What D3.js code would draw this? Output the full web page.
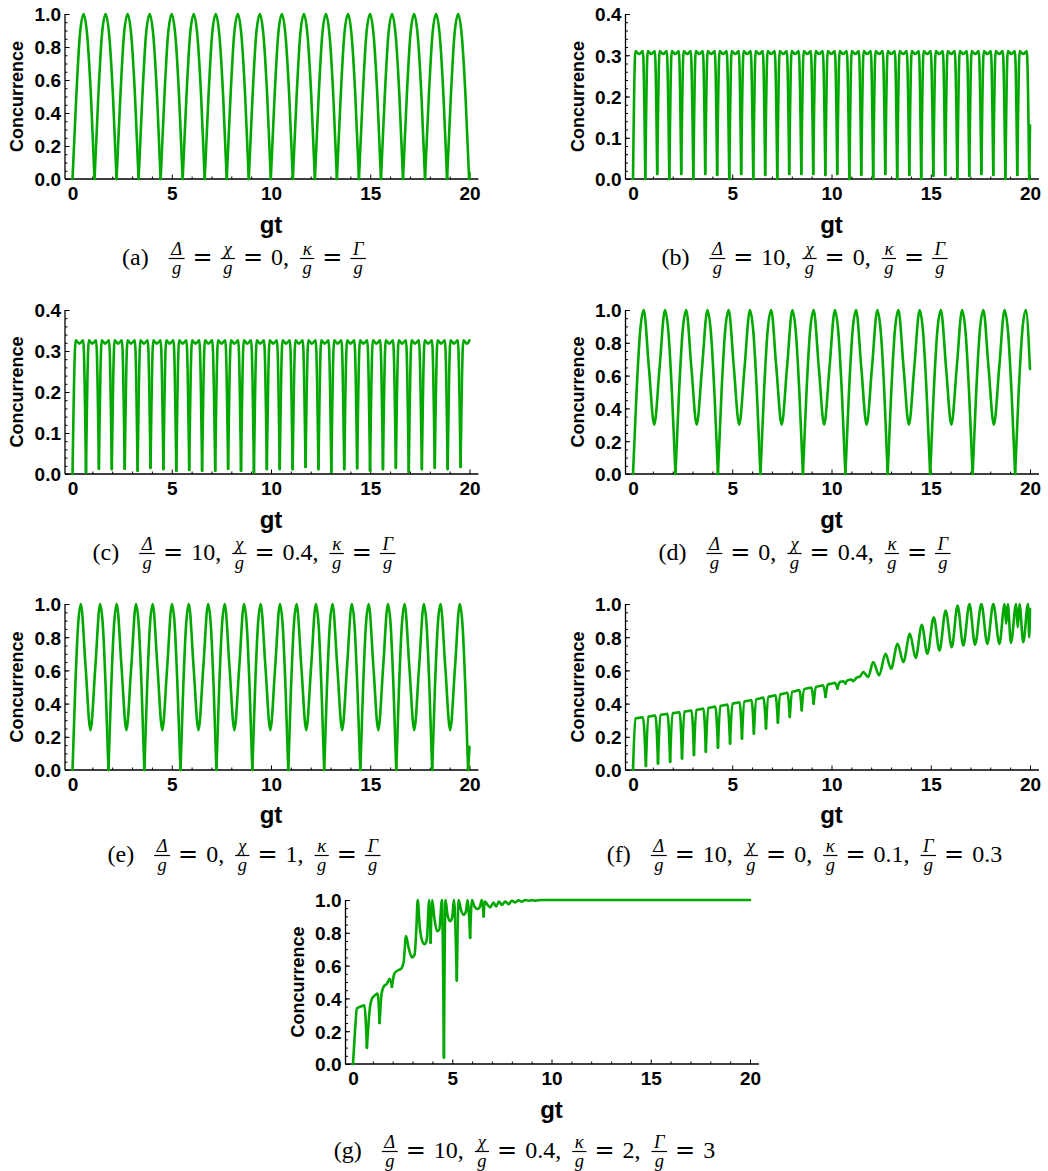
<!DOCTYPE html>
<html>
<head>
<meta charset="utf-8">
<title>Concurrence vs gt</title>
<script src="https://cdn.jsdelivr.net/npm/d3@7"></script>
<style>
  body { margin: 0; background: #fff; }
  .tick text, .lab { font-family: "Liberation Sans", Arial, sans-serif; font-weight: bold; fill: #000; }
  .cap text { font-family: "Liberation Serif", "Times New Roman", serif; fill: #000; }
  .cap text.eq { font-family: "DejaVu Serif", serif; }
</style>
</head>
<body>
<svg id="chart" width="1048" height="1171"></svg>
<script>
// values: [gt, concurrence]; a third entry 1 marks a sharp cusp
const concA = [
  [0,0,1],[.19,.5],[.37,.87],[.56,1],[.74,.87],[.93,.5],
  [1.11,0,1],[1.30,.5],[1.48,.87],[1.67,1],[1.85,.87],[2.04,.5],
  [2.22,0,1],[2.41,.5],[2.59,.87],[2.78,1],[2.96,.87],[3.15,.5],
  [3.33,0,1],[3.52,.5],[3.70,.87],[3.89,1],[4.07,.87],[4.26,.5],
  [4.44,0,1],[4.63,.5],[4.81,.87],[5.00,1],[5.18,.87],[5.37,.5],
  [5.55,0,1],[5.74,.5],[5.92,.87],[6.11,1],[6.29,.87],[6.48,.5],
  [6.66,0,1],[6.85,.5],[7.03,.87],[7.22,1],[7.40,.87],[7.59,.5],
  [7.77,0,1],[7.96,.5],[8.14,.87],[8.33,1],[8.51,.87],[8.70,.5],
  [8.88,0,1],[9.07,.5],[9.25,.87],[9.44,1],[9.62,.87],[9.81,.5],
  [9.99,0,1],[10.18,.5],[10.36,.87],[10.55,1],[10.73,.87],[10.92,.5],
  [11.10,0,1],[11.29,.5],[11.47,.87],[11.66,1],[11.84,.87],[12.03,.5],
  [12.21,0,1],[12.40,.5],[12.58,.87],[12.77,1],[12.95,.87],[13.14,.5],
  [13.32,0,1],[13.51,.5],[13.69,.87],[13.88,1],[14.06,.87],[14.25,.5],
  [14.43,0,1],[14.62,.5],[14.80,.87],[14.99,1],[15.17,.87],[15.36,.5],
  [15.54,0,1],[15.73,.5],[15.91,.87],[16.10,1],[16.28,.87],[16.47,.5],
  [16.65,0,1],[16.84,.5],[17.02,.87],[17.21,1],[17.39,.87],[17.58,.5],
  [17.76,0,1],[17.95,.5],[18.13,.87],[18.32,1],[18.50,.87],[18.69,.5],
  [18.87,0,1],[19.06,.5],[19.24,.87],[19.43,1],[19.61,.87],[19.80,.5],
  [19.98,0,1],[20,.04]
];

const concB = [
  [0,0,1],[.12,.31],[.31,.303],[.5,.31],
  [.62,0,1],[.74,.31],[.92,.303],[1.1,.31],
  [1.22,.012,1],[1.34,.31],[1.52,.303],[1.7,.31],
  [1.83,0,1],[1.95,.31],[2.13,.303],[2.31,.31],
  [2.43,.012,1],[2.55,.31],[2.73,.303],[2.91,.31],
  [3.04,0,1],[3.16,.31],[3.34,.303],[3.52,.31],
  [3.64,.012,1],[3.76,.31],[3.94,.303],[4.12,.31],
  [4.24,.01,1],[4.36,.31],[4.54,.303],[4.72,.31],
  [4.85,0,1],[4.97,.31],[5.15,.303],[5.33,.31],
  [5.45,.012,1],[5.57,.31],[5.75,.303],[5.93,.31],
  [6.06,0,1],[6.18,.31],[6.36,.303],[6.54,.31],
  [6.66,.01,1],[6.78,.31],[6.96,.303],[7.14,.31],
  [7.27,0,1],[7.39,.31],[7.57,.303],[7.75,.31],
  [7.87,.012,1],[7.99,.31],[8.17,.303],[8.35,.31],
  [8.48,.012,1],[8.6,.31],[8.78,.303],[8.96,.31],
  [9.08,.012,1],[9.2,.31],[9.38,.303],[9.56,.31],
  [9.69,.01,1],[9.81,.31],[9.99,.303],[10.17,.31],
  [10.29,.012,1],[10.41,.31],[10.59,.303],[10.77,.31],
  [10.9,0,1],[11.02,.31],[11.2,.303],[11.38,.31],
  [11.5,.01,1],[11.62,.31],[11.8,.303],[11.98,.31],
  [12.1,0,1],[12.22,.31],[12.4,.303],[12.58,.31],
  [12.71,.012,1],[12.83,.31],[13.01,.303],[13.19,.31],
  [13.31,0,1],[13.43,.31],[13.61,.303],[13.79,.31],
  [13.92,.01,1],[14.04,.31],[14.22,.303],[14.4,.31],
  [14.52,0,1],[14.64,.31],[14.82,.303],[15,.31],
  [15.13,.008,1],[15.25,.31],[15.43,.303],[15.61,.31],
  [15.73,.01,1],[15.85,.31],[16.03,.303],[16.21,.31],
  [16.34,0,1],[16.46,.31],[16.64,.303],[16.82,.31],
  [16.94,.008,1],[17.06,.31],[17.24,.303],[17.42,.31],
  [17.55,.012,1],[17.67,.31],[17.85,.303],[18.03,.31],
  [18.15,.01,1],[18.27,.31],[18.45,.303],[18.63,.31],
  [18.76,0,1],[18.88,.31],[19.06,.303],[19.24,.31],
  [19.36,.01,1],[19.48,.31],[19.66,.303],[19.84,.31],
  [19.96,0,1],[20,.13]
];

const concC = [
  [0,0,1],[.16,.326],[.35,.318],[.54,.326],
  [.68,.004,1],[.82,.326],[1.0,.318],[1.19,.326],
  [1.33,.013,1],[1.47,.326],[1.65,.318],[1.84,.326],
  [1.98,.012,1],[2.12,.326],[2.3,.318],[2.49,.326],
  [2.63,.013,1],[2.77,.326],[2.95,.318],[3.14,.326],
  [3.28,.008,1],[3.42,.326],[3.6,.318],[3.79,.326],
  [3.93,.015,1],[4.07,.326],[4.25,.318],[4.44,.326],
  [4.58,.012,1],[4.72,.326],[4.9,.318],[5.09,.326],
  [5.23,.008,1],[5.37,.326],[5.55,.318],[5.74,.326],
  [5.88,.01,1],[6.02,.326],[6.2,.318],[6.39,.326],
  [6.53,.008,1],[6.67,.326],[6.85,.318],[7.04,.326],
  [7.19,.008,1],[7.33,.326],[7.51,.318],[7.7,.326],
  [7.84,.013,1],[7.98,.326],[8.16,.318],[8.35,.326],
  [8.49,.008,1],[8.63,.326],[8.81,.318],[9.0,.326],
  [9.14,.004,1],[9.28,.326],[9.46,.318],[9.65,.326],
  [9.79,.012,1],[9.93,.326],[10.11,.318],[10.3,.326],
  [10.44,.012,1],[10.58,.326],[10.76,.318],[10.95,.326],
  [11.09,.012,1],[11.23,.326],[11.41,.318],[11.6,.326],
  [11.74,.017,1],[11.88,.326],[12.06,.318],[12.25,.326],
  [12.39,.012,1],[12.53,.326],[12.71,.318],[12.9,.326],
  [13.04,.005,1],[13.18,.326],[13.36,.318],[13.55,.326],
  [13.69,.012,1],[13.83,.326],[14.01,.318],[14.2,.326],
  [14.34,.014,1],[14.48,.326],[14.66,.318],[14.85,.326],
  [14.99,.008,1],[15.13,.326],[15.31,.318],[15.5,.326],
  [15.64,.012,1],[15.78,.326],[15.96,.318],[16.15,.326],
  [16.29,.015,1],[16.43,.326],[16.61,.318],[16.8,.326],
  [16.94,.005,1],[17.08,.326],[17.26,.318],[17.45,.326],
  [17.6,.012,1],[17.74,.326],[17.92,.318],[18.11,.326],
  [18.25,.015,1],[18.39,.326],[18.57,.318],[18.76,.326],
  [18.9,.012,1],[19.04,.326],[19.22,.318],[19.41,.326],
  [19.55,.017,1],[19.69,.326],[19.87,.318],[20,.326]
];

const concD = [
  [0,0,1],[.18,.5],[.36,.87],[.54,1],[.80,.65],[1.07,.30],[1.34,.65],[1.61,1],[1.78,.87],[1.96,.5],
  [2.14,0,1],[2.32,.5],[2.50,.87],[2.68,1],[2.94,.65],[3.21,.30],[3.48,.65],[3.75,1],[3.92,.87],[4.10,.5],
  [4.28,0,1],[4.46,.5],[4.64,.87],[4.82,1],[5.08,.65],[5.35,.30],[5.62,.65],[5.89,1],[6.06,.87],[6.24,.5],
  [6.42,0,1],[6.60,.5],[6.78,.87],[6.96,1],[7.22,.65],[7.49,.30],[7.76,.65],[8.03,1],[8.20,.87],[8.38,.5],
  [8.56,0,1],[8.74,.5],[8.92,.87],[9.10,1],[9.36,.65],[9.63,.30],[9.90,.65],[10.17,1],[10.34,.87],[10.52,.5],
  [10.70,0,1],[10.88,.5],[11.06,.87],[11.24,1],[11.50,.65],[11.77,.30],[12.04,.65],[12.31,1],[12.48,.87],[12.66,.5],
  [12.83,0,1],[13.01,.5],[13.19,.87],[13.37,1],[13.63,.65],[13.90,.30],[14.17,.65],[14.44,1],[14.61,.87],[14.79,.5],
  [14.97,0,1],[15.15,.5],[15.33,.87],[15.51,1],[15.77,.65],[16.04,.30],[16.31,.65],[16.58,1],[16.75,.87],[16.93,.5],
  [17.11,0,1],[17.29,.5],[17.47,.87],[17.65,1],[17.91,.65],[18.18,.30],[18.45,.65],[18.72,1],[18.89,.87],[19.07,.5],
  [19.25,0,1],[19.43,.5],[19.61,.87],[19.79,1],[20,.64]
];

const concE = [
  [0,0,1],[.14,.5],[.28,.87],[.42,1],[.66,.62],[.905,.24],[1.15,.62],[1.39,1],[1.53,.87],[1.67,.5],
  [1.81,0,1],[1.95,.5],[2.09,.87],[2.23,1],[2.47,.62],[2.715,.24],[2.96,.62],[3.20,1],[3.34,.87],[3.48,.5],
  [3.62,0,1],[3.76,.5],[3.90,.87],[4.04,1],[4.28,.62],[4.525,.24],[4.77,.62],[5.01,1],[5.15,.87],[5.29,.5],
  [5.44,0,1],[5.58,.5],[5.72,.87],[5.86,1],[6.10,.62],[6.345,.24],[6.59,.62],[6.83,1],[6.97,.87],[7.11,.5],
  [7.25,0,1],[7.39,.5],[7.53,.87],[7.67,1],[7.91,.62],[8.155,.24],[8.40,.62],[8.64,1],[8.78,.87],[8.92,.5],
  [9.06,0,1],[9.20,.5],[9.34,.87],[9.48,1],[9.72,.62],[9.965,.24],[10.21,.62],[10.45,1],[10.59,.87],[10.73,.5],
  [10.87,0,1],[11.01,.5],[11.15,.87],[11.29,1],[11.53,.62],[11.775,.24],[12.02,.62],[12.26,1],[12.40,.87],[12.54,.5],
  [12.68,0,1],[12.82,.5],[12.96,.87],[13.10,1],[13.34,.62],[13.585,.24],[13.83,.62],[14.07,1],[14.21,.87],[14.35,.5],
  [14.50,0,1],[14.64,.5],[14.78,.87],[14.92,1],[15.16,.62],[15.405,.24],[15.65,.62],[15.89,1],[16.03,.87],[16.17,.5],
  [16.31,0,1],[16.45,.5],[16.59,.87],[16.73,1],[16.97,.62],[17.215,.24],[17.46,.62],[17.70,1],[17.84,.87],[17.98,.5],
  [18.12,0,1],[18.26,.5],[18.40,.87],[18.54,1],[18.78,.62],[19.025,.24],[19.27,.62],[19.51,1],[19.65,.87],[19.79,.5],
  [19.93,0,1],[20,.14]
];

const concF = [
  [0,0,1],[.12,.31],[.3,.314],[.5,.318],
  [.65,.025,1],[.77,.322],[.95,.325],[1.13,.328],
  [1.26,.04,1],[1.38,.332],[1.56,.335],[1.74,.338],
  [1.87,.05,1],[1.99,.342],[2.17,.345],[2.35,.348],
  [2.47,.07,1],[2.59,.352],[2.77,.355],[2.95,.358],
  [3.07,.09,1],[3.19,.362],[3.37,.366],[3.55,.37],
  [3.67,.11,1],[3.79,.374],[3.97,.378],[4.15,.382],
  [4.28,.135,1],[4.4,.386],[4.58,.39],[4.76,.395],
  [4.89,.16,1],[5.01,.4],[5.19,.404],[5.37,.408],
  [5.49,.19,1],[5.61,.412],[5.79,.417],[5.97,.422],
  [6.09,.22,1],[6.21,.426],[6.39,.431],[6.57,.436],
  [6.7,.25,1],[6.82,.44],[7.0,.445],[7.18,.45],
  [7.3,.285,1],[7.42,.455],[7.6,.46],[7.78,.465],
  [7.9,.32,1],[8.02,.47],[8.2,.476],[8.38,.482],
  [8.5,.36,1],[8.62,.486],[8.8,.492],[8.98,.497],
  [9.1,.40,1],[9.22,.5],[9.4,.506],[9.58,.51],
  [9.7,.44,1],[9.82,.515],[10.0,.52],[10.18,.525],
  [10.3,.49,1],[10.42,.53],[10.6,.535],
  [10.7,.52,1],[10.8,.54],[11.0,.545],[11.1,.535],[11.25,.555],[11.45,.565],[11.6,.59],[11.85,.56],
  [12.1,.65],[12.4,.57],[12.72,.70],[13.0,.61],[13.33,.76],[13.62,.65],[13.95,.82],[14.24,.675],
  [14.55,.875],[14.83,.70],[15.15,.92],[15.44,.72],[15.75,.96],[16.06,.74],[16.35,.99],[16.64,.75],
  [16.95,1.0],[17.23,.755],[17.55,1.0],[17.85,.76],[18.15,1.0],[18.46,.76],[18.72,1.0],[18.8,.88],
  [18.88,1.0],[19.04,.765],[19.3,1.0],[19.38,.86],[19.47,1.0],[19.66,.77],[19.9,1.0],[19.96,.8],[20,.97]
];

const concG = [
  [0,0,1],[.1,.2],[.2,.34],[.37,.35],[.5,.355],[.57,.36],
  [.70,.10,1],[.84,.33],[.96,.40],[1.12,.42],[1.24,.43],
  [1.34,.25,1],[1.44,.43],[1.54,.47],[1.71,.49],[1.85,.52],
  [1.96,.47,1],[2.08,.55],[2.25,.57],[2.42,.58],[2.55,.62],[2.67,.78],[2.8,.71],[2.97,.65],[3.1,.665],
  [3.19,.82],[3.26,1],[3.36,.84],[3.52,.74],[3.62,.73],[3.72,.76],[3.84,1],
  [3.91,.74,1],[3.99,1],[4.09,.9],[4.23,.81],[4.35,.82],[4.48,1],
  [4.58,.04,1],[4.66,1],[4.76,.91],[4.9,.87],[5.0,.895],[5.08,1],
  [5.23,.51,1],[5.32,1],[5.44,.94],[5.57,.91],[5.69,.93],[5.77,1],
  [5.9,.77,1],[5.99,1],[6.12,.96],[6.28,.945],[6.41,.965],[6.49,1],
  [6.58,.9,1],[6.64,.99],[6.78,.97],[6.91,.955],[7.08,.985],[7.21,.96],[7.35,.99],[7.5,.97],
  [7.67,.99],[7.84,.975],[8.0,.995],[8.17,.985],[8.34,.998],[8.5,.99],[8.68,1],[8.84,.995],
  [9.0,.999],[9.2,.996],[9.5,1],[10,1],[20,1]
];

const xMajor = [0, 5, 10, 15, 20];
const capA = ["(a)", "Δ/g", "=", "χ/g", "=", "0,", "κ/g", "=", "Γ/g"];
const capB = ["(b)", "Δ/g", "=", "10,", "χ/g", "=", "0,", "κ/g", "=", "Γ/g"];
const capC = ["(c)", "Δ/g", "=", "10,", "χ/g", "=", "0.4,", "κ/g", "=", "Γ/g"];
const capD = ["(d)", "Δ/g", "=", "0,", "χ/g", "=", "0.4,", "κ/g", "=", "Γ/g"];
const capE = ["(e)", "Δ/g", "=", "0,", "χ/g", "=", "1,", "κ/g", "=", "Γ/g"];
const capF = ["(f)", "Δ/g", "=", "10,", "χ/g", "=", "0,", "κ/g", "=", "0.1,", "Γ/g", "=", "0.3"];
const capG = ["(g)", "Δ/g", "=", "10,", "χ/g", "=", "0.4,", "κ/g", "=", "2,", "Γ/g", "=", "3"];

// layout
const rows = [
  {top: 14, bottom: 179, gt: 233, cap: 265},
  {top: 310, bottom: 474, gt: 528, cap: 560},
  {top: 604, bottom: 770, gt: 823, cap: 862},
  {top: 900, bottom: 1064, gt: 1118, cap: 1158}
];
const panels = [
  {data: concA, cap: capA, left: 65, row: 0, yMax: 1},
  {data: concB, cap: capB, left: 625.5, row: 0, yMax: 0.4},
  {data: concC, cap: capC, left: 65, row: 1, yMax: 0.4},
  {data: concD, cap: capD, left: 625.5, row: 1, yMax: 1},
  {data: concE, cap: capE, left: 65, row: 2, yMax: 1},
  {data: concF, cap: capF, left: 625.5, row: 2, yMax: 1},
  {data: concG, cap: capG, left: 345.5, row: 3, yMax: 1}
];

const svg = d3.select("#chart");
const green = "#00a800";

function drawPanel(p) {
  const r = rows[p.row];
  const g = svg.append("g");
  const x = d3.scaleLinear().domain([0, 20]).range([p.left + 7.5, p.left + 404.5]);
  const y = d3.scaleLinear().domain([0, p.yMax]).range([r.bottom, r.top]);
  const yStep = p.yMax > 0.5 ? 0.2 : 0.1;
  const yMinor = p.yMax > 0.5 ? 0.05 : 0.02;

  // minor ticks
  g.append("g").attr("transform", `translate(0,${r.bottom})`)
    .call(d3.axisBottom(x).tickValues(d3.range(0, 21).filter(v => v % 5)).tickSize(-2.5).tickFormat(""))
    .call(s => s.select(".domain").remove());
  g.append("g").attr("transform", `translate(${p.left},0)`)
    .call(d3.axisLeft(y).tickValues(d3.range(0, p.yMax + 1e-9, yMinor)).tickSize(-2.5).tickFormat(""))
    .call(s => s.select(".domain").remove());

  // major ticks + labels
  g.append("g").attr("transform", `translate(0,${r.bottom})`)
    .call(d3.axisBottom(x).tickValues(xMajor).tickSize(-4.5).tickPadding(8).tickFormat(d3.format("d")))
    .call(s => s.select(".domain").remove())
    .call(s => s.selectAll("text").style("font-size", "19px"));
  g.append("g").attr("transform", `translate(${p.left},0)`)
    .call(d3.axisLeft(y).tickValues(d3.range(0, p.yMax + 1e-9, yStep)).tickSize(-4.5).tickPadding(4).tickFormat(d3.format(".1f")))
    .call(s => s.select(".domain").remove())
    .call(s => s.selectAll("text").style("font-size", "19px").attr("dy", "0.36em"));
  g.selectAll(".tick line").attr("stroke", "#000").attr("stroke-width", 1);

  // frame lines
  g.append("line").attr("x1", p.left).attr("x2", x(20.45)).attr("y1", r.bottom).attr("y2", r.bottom)
    .attr("stroke", "#000").attr("stroke-width", 1.3);
  g.append("line").attr("x1", p.left).attr("x2", p.left).attr("y1", r.bottom).attr("y2", r.top)
    .attr("stroke", "#000").attr("stroke-width", 1.3);

  // curve, broken at cusps so the V-shaped minima stay sharp
  const line = d3.line().x(d => x(d[0])).y(d => y(d[1])).curve(d3.curveMonotoneX);
  const pieces = [];
  let cur = [];
  p.data.forEach(d => {
    cur.push(d);
    if (d[2] && cur.length > 1) { pieces.push(cur); cur = [d]; }
  });
  if (cur.length > 1) pieces.push(cur);
  g.selectAll("path.curve").data(pieces).join("path").attr("class", "curve")
    .attr("d", line).attr("fill", "none").attr("stroke", green)
    .attr("stroke-width", 2.6).attr("stroke-linejoin", "round").attr("stroke-linecap", "round");

  // axis labels
  g.append("text").attr("class", "lab")
    .attr("transform", `translate(${p.left - 48},${(r.top + r.bottom) / 2}) rotate(-90)`)
    .attr("text-anchor", "middle").attr("dominant-baseline", "central")
    .style("font-size", "18px").text("Concurrence");
  g.append("text").attr("class", "lab").attr("x", x(10)).attr("y", r.gt)
    .attr("text-anchor", "middle").style("font-size", "24px").text("gt");

  caption(p.cap, p.left + 179, r.cap);
}

// caption typeset by hand: label, then fractions, "=" signs and numbers
function caption(parts, cx, base) {
  const g = svg.append("g").attr("class", "cap");
  let pos = 0;
  parts.forEach((s, i) => {
    if (i === 1) pos += 17;
    if (s.includes("/")) {
      const [num, den] = s.split("/");
      const f = g.append("g");
      const tn = f.append("text").attr("y", base - 10.5).style("font-size", "18.5px")
        .style("font-style", "italic").attr("text-anchor", "middle").text(num);
      const td = f.append("text").attr("y", base + 8.5).style("font-size", "18.5px")
        .style("font-style", "italic").attr("text-anchor", "middle").text(den);
      const w = Math.max(tn.node().getComputedTextLength(), td.node().getComputedTextLength()) + 5;
      tn.attr("x", pos + w / 2);
      td.attr("x", pos + w / 2);
      f.append("line").attr("x1", pos).attr("x2", pos + w)
        .attr("y1", base - 6.5).attr("y2", base - 6.5).attr("stroke", "#000").attr("stroke-width", 1.2);
      pos += w + 2;
    } else {
      const isEq = s === "=";
      if (isEq) pos += 6;
      const t = g.append("text").attr("x", pos).attr("y", base).style("font-size", "24px")
        .attr("class", isEq ? "eq" : null).text(s);
      pos += t.node().getComputedTextLength();
      pos += isEq ? 8 : (s.endsWith(",") ? 11 : 3);
    }
  });
  const bb = g.node().getBBox();
  g.attr("transform", `translate(${cx - bb.x - bb.width / 2},0)`);
}

panels.forEach(drawPanel);
</script>
</body>
</html>
